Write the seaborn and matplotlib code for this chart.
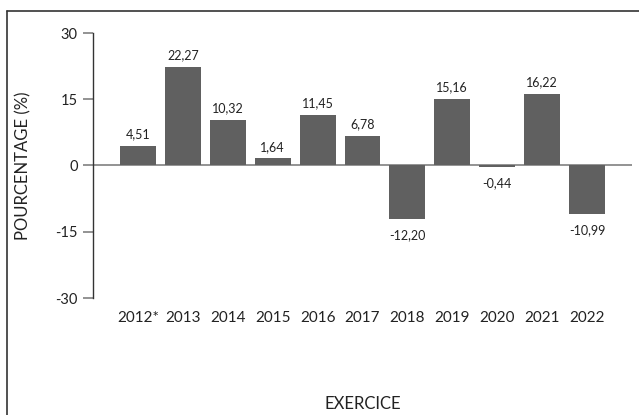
import matplotlib
matplotlib.use("Agg")
import matplotlib.pyplot as plt
import seaborn as sns
import pandas as pd
from matplotlib.lines import Line2D

# data
years = ["2012*", "2013", "2014", "2015", "2016", "2017", "2018", "2019", "2020", "2021", "2022"]
pct = [4.51, 22.27, 10.32, 1.64, 11.45, 6.78, -12.20, 15.16, -0.44, 16.22, -10.99]
yticks = [-30, -15, 0, 15, 30]

sns.set_theme(style="white")
plt.rcParams['font.family'] = ['Lato', 'DejaVu Sans']

df = pd.DataFrame({"year": years, "pct": pct})

fig = plt.figure(figsize=(6.39, 4.15), dpi=100)
ax = fig.add_axes([93 / 639, 1 - 298 / 415, 539 / 639, 265 / 415])

sns.barplot(data=df, x="year", y="pct", color="#606060", saturation=1,
            width=0.8, linewidth=0, edgecolor="none", ax=ax)

ax.set_xlim(-1, 11)
ax.set_ylim(-30, 30)
ax.set_yticks(yticks)
ax.set_yticklabels([str(t) for t in yticks], fontsize=10.5, color="#222222")
ax.axhline(0, color="#8a8a8a", lw=1.3, zorder=0.5)

for s in ["top", "right", "bottom"]:
    ax.spines[s].set_visible(False)
ax.spines["left"].set_bounds(-30, 30)
ax.spines["left"].set_color("#333333")
ax.spines["left"].set_linewidth(1.0)
ax.tick_params(axis="y", length=7, width=1.3, color="#8a8a8a", left=True, pad=4)
ax.tick_params(axis="x", length=0, pad=9, labelsize=11, labelcolor="#222222")

# value labels, comma decimal
bars = ax.containers[0]
for rect, v in zip(bars, pct):
    txt = f"{v:.2f}".replace(".", ",")
    x = rect.get_x() + rect.get_width() / 2
    if v >= 0:
        ax.annotate(txt, (x, v), xytext=(0, 4), textcoords="offset points",
                    ha="center", va="bottom", fontsize=9, color="#222222")
    else:
        ax.annotate(txt, (x, v), xytext=(0, -7), textcoords="offset points",
                    ha="center", va="top", fontsize=9, color="#222222")

ax.set_xlabel("EXERCICE", fontsize=12, color="#222222")
ax.xaxis.set_label_coords(0.5, -0.37)
ax.set_ylabel("POURCENTAGE (%)", fontsize=12, color="#222222")
ax.yaxis.set_label_coords(-0.115, 0.5)

# frame around the figure (only top and left visible in the crop)
fig.add_artist(Line2D([7 / 639, 1], [1 - 11 / 415, 1 - 11 / 415], color="#333333", lw=1.2))
fig.add_artist(Line2D([7 / 639, 7 / 639], [0, 1 - 11 / 415], color="#333333", lw=1.2))

fig.savefig("out.png", dpi=100)
